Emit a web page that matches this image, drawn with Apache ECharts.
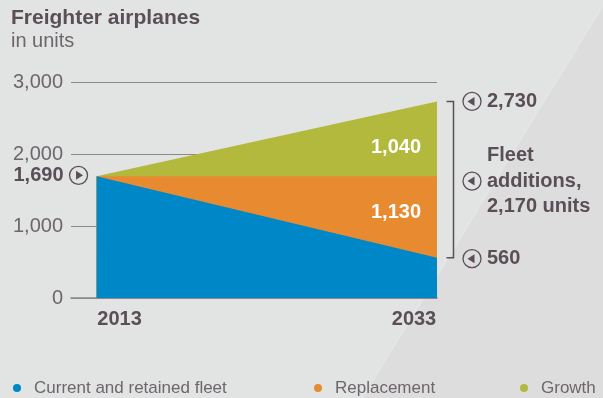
<!DOCTYPE html>
<html><head><meta charset="utf-8">
<script src="https://cdn.jsdelivr.net/npm/echarts@6/dist/echarts.min.js"></script>
<style>html,body{margin:0;padding:0;background:#e2e3e3}#c{width:603px;height:398px}</style>
</head><body><div id="c"></div>
<script>
const years = [2013, 2033];
const current = [1690, 560];
const replacement = [0, 1130];
const growth = [0, 1040];
const yTicks = [0, 1000, 2000, 3000];
const xTicks = [2013, 2033];
const seriesNames = ['Current and retained fleet', 'Replacement', 'Growth'];

const C_BLUE = '#0087c7', C_ORANGE = '#e88b30', C_GREEN = '#b3b93c';
const DARK = '#5a4f57', GRAY = '#6d666c', LINE = '#8e868c';
const FONT = 'Liberation Sans';
const fmt = v => v.toLocaleString('en-US');

// cumulative tops (layers are painted from 0, top layer last)
const cumBlue = current.slice();
const cumOrange = current.map((v, i) => v + replacement[i]);
const cumGreen = current.map((v, i) => v + replacement[i] + growth[i]);

const chart = echarts.init(document.getElementById('c'), null, {renderer: 'canvas'});
function pairs(arr) { return years.map((y, i) => [y, arr[i]]); }
function areaSeries(name, arr, color, z) {
  return {
    name, type: 'line', data: pairs(arr),
    symbol: 'none', lineStyle: {width: 0}, itemStyle: {color},
    areaStyle: {color, opacity: 1}, z
  };
}
function legend(name, left) {
  return {
    data: [name], left, top: 379, icon: 'circle', itemWidth: 24, itemHeight: 8,
    padding: 0, selectedMode: false,
    textStyle: {fontFamily: FONT, fontSize: 17, color: GRAY, lineHeight: 18}
  };
}
const option = {
  backgroundColor: '#e2e3e3',
  animation: false,
  title: {
    text: 'Freighter airplanes', subtext: 'in units', left: 11, top: 6, padding: 0, itemGap: 0,
    textStyle: {fontFamily: FONT, fontSize: 21, fontWeight: 'bold', color: DARK, lineHeight: 24},
    subtextStyle: {fontFamily: FONT, fontSize: 20, color: GRAY, lineHeight: 22}
  },
  legend: [legend(seriesNames[0], 13), legend(seriesNames[1], 314), legend(seriesNames[2], 520)],
  grid: {left: 71, right: 166, top: 82, bottom: 100},
  xAxis: {
    type: 'value', min: 2011.5, max: 2033,
    axisLine: {show: true, lineStyle: {color: LINE, width: 1.5}},
    axisTick: {show: false}, splitLine: {show: false},
    axisLabel: {
      customValues: xTicks, margin: 11,
      formatter: v => (v === xTicks[0] ? '{l|' + v + '}' : '{r|' + v + '}'),
      rich: {
        l: {fontFamily: FONT, fontSize: 20, fontWeight: 'bold', color: DARK, padding: [0, 0, 0, 46]},
        r: {fontFamily: FONT, fontSize: 20, fontWeight: 'bold', color: DARK, padding: [0, 46, 0, 0]}
      }
    }
  },
  yAxis: {
    type: 'value', min: yTicks[0], max: yTicks[yTicks.length - 1], interval: 1000,
    axisLine: {show: false}, axisTick: {show: false},
    splitLine: {show: true, lineStyle: {color: LINE, width: 1.2}},
    axisLabel: {fontFamily: FONT, fontSize: 20, color: GRAY, margin: 8, formatter: v => fmt(v)}
  },
  series: [
    areaSeries(seriesNames[0], cumBlue, C_BLUE, 5),
    areaSeries(seriesNames[1], cumOrange, C_ORANGE, 4),
    areaSeries(seriesNames[2], cumGreen, C_GREEN, 3)
  ]
};
chart.setOption(option);

const px = (x, y) => chart.convertToPixel({gridIndex: 0}, [x, y]);
const last = years.length - 1;
const pStart = px(years[0], cumGreen[0]);
const pTop = px(years[last], cumGreen[last]);
const pOrange = px(years[last], cumOrange[last]);
const pBlue = px(years[last], cumBlue[last]);
const additions = replacement[last] + growth[last];

function arrowCircle(cx, cy, dir) {
  const r = 9;
  const pts = dir > 0
    ? [[cx - 2.5, cy - 4.5], [cx - 2.5, cy + 4.5], [cx + 4.5, cy]]
    : [[cx + 2.5, cy - 4.5], [cx + 2.5, cy + 4.5], [cx - 4.5, cy]];
  return [
    {type: 'circle', shape: {cx, cy, r}, style: {fill: 'none', stroke: DARK, lineWidth: 1.3}, z: 10},
    {type: 'polygon', shape: {points: pts}, style: {fill: DARK}, z: 10}
  ];
}
function txt(x, y, text, opts) {
  return {type: 'text', x, y, z: 10, style: Object.assign({
    text, fontFamily: FONT, fontSize: 20, fontWeight: 'bold', fill: DARK,
    verticalAlign: 'middle', align: 'left'
  }, opts || {})};
}
const rx = pTop[0] + 35;
const bx = pTop[0] + 16.5;
const midY = (pTop[1] + pBlue[1]) / 2 + 1.5;
const g = [
  {type: 'polygon', shape: {points: [[363, 398], [603, 7], [603, 398]]}, style: {fill: '#dddddd'}, z: -10, silent: true},
  {type: 'line', shape: {x1: 361.5, y1: 398, x2: 601.5, y2: 7}, style: {stroke: '#e4e5e5', lineWidth: 2}, z: -9, silent: true},
  ...arrowCircle(pStart[0] - 18, pStart[1] - 1, 1),
  txt(pStart[0] - 33, pStart[1] - 1, fmt(current[0]), {align: 'right'}),
  txt(pTop[0] - 16, pTop[1] + 46, fmt(growth[last]), {align: 'right', fill: '#ffffff'}),
  txt(pTop[0] - 16, pOrange[1] + 36, fmt(replacement[last]), {align: 'right', fill: '#ffffff'}),
  {type: 'polyline', shape: {points: [[bx - 7, pTop[1]], [bx, pTop[1]], [bx, pBlue[1]], [bx - 7, pBlue[1]]]},
   style: {stroke: DARK, lineWidth: 1.5, fill: 'none'}, z: 10},
  ...arrowCircle(rx, pTop[1], -1),
  txt(rx + 15, pTop[1], fmt(cumGreen[last])),
  ...arrowCircle(rx, pBlue[1] + 1, -1),
  txt(rx + 15, pBlue[1] + 1, fmt(current[last])),
  ...arrowCircle(rx, midY, -1),
  txt(rx + 15, midY - 25.5, 'Fleet'),
  txt(rx + 15, midY, 'additions,'),
  txt(rx + 15, midY + 25.5, fmt(additions) + ' units')
];
chart.setOption({graphic: g});
</script>
</body></html>
